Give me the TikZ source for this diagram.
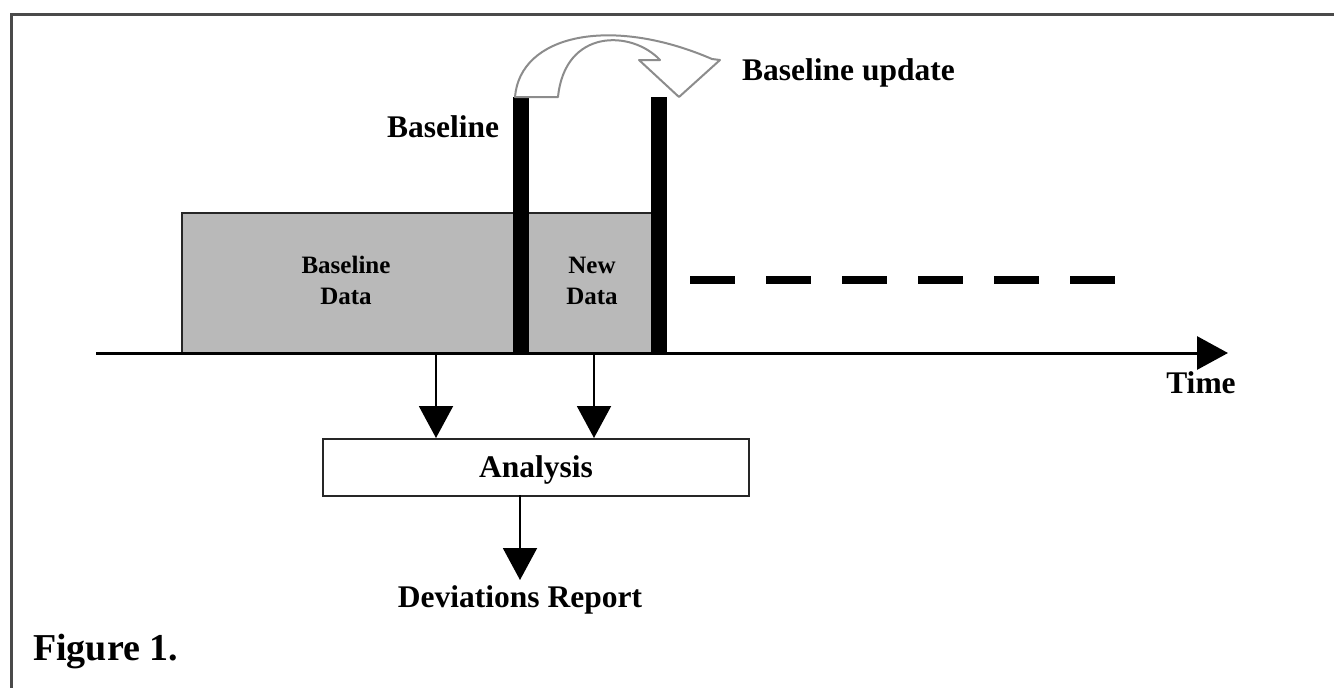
\documentclass[tikz,border=0pt]{standalone}
\usepackage{fontspec}
\setmainfont{Liberation Serif}
\usetikzlibrary{arrows.meta}
\definecolor{framegray}{HTML}{4A4A4A}
\definecolor{datagray}{HTML}{B9B9B9}
\definecolor{curvegray}{HTML}{8C8C8C}
\tikzset{
  lbl/.style={font=\fontsize{31.5}{33}\selectfont\bfseries, inner sep=0pt, anchor=base},
  inlbl/.style={font=\fontsize{25}{31}\selectfont\bfseries, inner sep=0pt, align=center, anchor=base},
  figlbl/.style={font=\fontsize{38}{40}\selectfont\bfseries, inner sep=0pt, anchor=base west},
  databox/.style={draw=black!85, line width=1.8pt, fill=datagray, anchor=north west, inner sep=0pt},
  barbox/.style={fill=black, draw=none, anchor=north west, inner sep=0pt, minimum width=16pt, minimum height=256pt},
  anabox/.style={draw=black!85, line width=2pt, fill=white, anchor=north west, inner sep=0pt, minimum width=426pt, minimum height=57pt},
  darrow/.style={line width=2pt, -{Triangle[length=32pt,width=34pt]}},
  taxis/.style={line width=3pt, -{Triangle[length=31pt,width=33pt]}},
  dashline/.style={line width=8pt, dash pattern=on 45pt off 31pt},
  bigcurve/.style={draw=curvegray, line width=2pt, fill=white, line join=round},
}
\begin{document}
\begin{tikzpicture}[x=1pt,y=-1pt]
\useasboundingbox (0,0) rectangle (1334,688);
% frame
\draw[framegray, line width=3pt] (11,690) -- (11,14) -- (1336,14);

% data region
\node[databox, minimum width=477pt, minimum height=141pt] (data) at (181,212) {};

% time axis
\coordinate (axstart) at (96,353);
\coordinate (axend) at (1228,353);
\draw[taxis] (axstart) -- (axend);
\node[lbl] (time) at (1201,393) {Time};

% bars
\node[barbox] (bar1) at (513,97) {};
\node[barbox] (bar2) at (651,97) {};

% data labels
\node[inlbl] (bdata) at (346,304) {Baseline\\Data};
\node[inlbl] (ndata) at (592,304) {New\\Data};

% dashed continuation
\coordinate (dstart) at (690,280);
\coordinate (dend) at (1116,280);
\draw[dashline] (dstart) -- (dend);

% labels
\node[lbl] (blabel) at (443,137) {Baseline};
\node[lbl, anchor=base west] (bupdate) at (742,80) {Baseline update};

% curved hollow arrow
\draw[bigcurve] (515,97) .. controls (520,35) and (610,15) .. (712,59)
  -- (720,60) -- (679,97) -- (639,60) -- (660,60)
  .. controls (632,30) and (565,28) .. (558,97) -- cycle;

% analysis
\node[anabox] (ana) at (322,438) {};
\node[lbl] (analbl) at (536,477) {Analysis};
\coordinate (s1) at (436,354);
\coordinate (s2) at (594,354);
\draw[darrow] (s1) -- (s1 |- ana.north);
\draw[darrow] (s2) -- (s2 |- ana.north);

% deviations report
\coordinate (a1) at (520,495);
\coordinate (a2) at (520,580);
\draw[darrow] (a1) -- (a2);
\node[lbl] (dev) at (520,607) {Deviations Report};

% figure caption
\node[figlbl] (fig) at (33,660) {Figure 1.};
\end{tikzpicture}
\end{document}
